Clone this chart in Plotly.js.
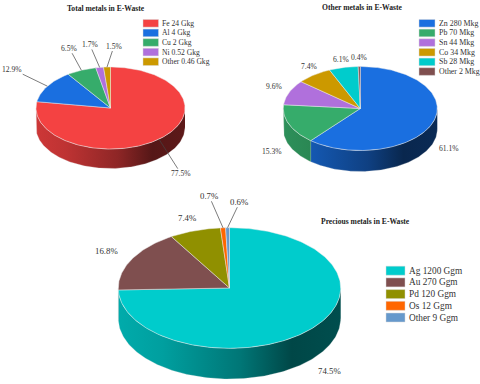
<!DOCTYPE html>
<html>
<head>
<meta charset="utf-8">
<script src="https://cdn.plot.ly/plotly-3.0.1.min.js"></script>
<style>html, body { margin: 0; padding: 0; background: #fff; } #plot { width: 480px; height: 384px; }</style>
</head>
<body>
<div id="plot"></div>
<script>
// --- values ---
const totalNames = ['Fe', 'Al', 'Cu', 'Ni', 'Other'];
const totalValues = [24, 4, 2, 0.52, 0.46];
const otherNames = ['Zn', 'Pb', 'Sn', 'Co', 'Sb', 'Other'];
const otherValues = [280, 70, 44, 34, 28, 2];
const preciousNames = ['Ag', 'Au', 'Pd', 'Os', 'Other'];
const preciousValues = [1200, 270, 120, 12, 9];

const totalColors = ['#f44242', '#1a6fe0', '#36ac6b', '#b070dc', '#cc9900'];
const otherColors = ['#1a6fe0', '#36ac6b', '#b070dc', '#cc9900', '#00cccc', '#7f4f4f'];
const preciousColors = ['#00cccc', '#7f4f4f', '#909000', '#ff6600', '#6699cc'];

// --- where each pie sits (the plot axes run in page pixels) ---
const FONT = '"Liberation Serif", "Times New Roman", serif';
const TEXT = '#333333';
const charts = [
  {
    title: 'Total metals in E-Waste', titleX: 106, titleY: 8.7, titleSize: 7.6,
    names: totalNames, values: totalValues, colors: totalColors, unit: 'Gkg',
    cx: 110.5, cy: 108, rx: 74.5, ry: 41, depth: 19.5, labelSize: 7.6,
    leaders: [true, true, true, true, true],
    offsets: [[22, 34.5], [-35, -17], [-12, -22], [-10, -23], [7, -21]],
    legend: { x: 143, y: 23.3, dy: 9.6, w: 15.5, h: 7.6, size: 7.6 },
  },
  {
    title: 'Other metals in E-Waste', titleX: 361.7, titleY: 7, titleSize: 7.6,
    names: otherNames, values: otherValues, colors: otherColors, unit: 'Mkg',
    cx: 360.3, cy: 108.5, rx: 77, ry: 42, depth: 21, labelSize: 7.6,
    leaders: [false, false, false, false, false, false],
    offsets: [[16, 26], [-17, 26.5], [-15, -6], [-5, -8], [-2.5, -8.5], [0, -9]],
    legend: { x: 419, y: 23.3, dy: 9.65, w: 16, h: 7.6, size: 7.9 },
  },
  {
    title: 'Precious metals in E-Waste', titleX: 365, titleY: 221, titleSize: 7.6,
    names: preciousNames, values: preciousValues, colors: preciousColors, unit: 'Ggm',
    cx: 229.5, cy: 288, rx: 111.2, ry: 60.3, depth: 30.7, labelSize: 8.8,
    leaders: [false, false, false, true, true],
    offsets: [[20, 41], [-25, -8], [-7, -13], [-14, -32], [12.4, -26]],
    legend: { x: 386, y: 270.7, dy: 11.7, w: 19, h: 9, size: 9.3 },
  },
];

// darkening of the side wall from the left edge to the right edge of a pie
const wallStops = [[0, 0.84], [0.2, 0.78], [0.55, 0.58], [0.78, 0.35], [1, 0.38]];

function shade(hex, f) {
  const n = parseInt(hex.slice(1), 16);
  const r = Math.round((n >> 16 & 255) * f), g = Math.round((n >> 8 & 255) * f), b = Math.round((n & 255) * f);
  return `rgb(${r},${g},${b})`;
}

// angle in degrees, clockwise from 12 o'clock
function ex(c, a) { return c.cx + c.rx * Math.sin(a * Math.PI / 180); }
function ey(c, a) { return c.cy - c.ry * Math.cos(a * Math.PI / 180); }
function arc(a0, a1) {
  const n = Math.max(1, Math.ceil(Math.abs(a1 - a0)));
  return Array.from({ length: n + 1 }, (_, i) => a0 + (a1 - a0) * i / n);
}

const walls = [], tops = [], shapes = [], annotations = [];

charts.forEach(c => {
  const sum = c.values.reduce((s, v) => s + v, 0);
  let cum = 0;
  c.values.forEach((v, i) => {
    const a0 = cum / sum * 360, a1 = (cum + v) / sum * 360, mid = (a0 + a1) / 2;
    cum += v;
    const pct = (v / sum * 100).toFixed(1) + '%';
    const hover = `${c.names[i]} ${v} ${c.unit} (${pct})<extra></extra>`;

    // side wall: only the part of the slice on the front half
    const w0 = Math.max(a0, 90), w1 = Math.min(a1, 270);
    if (w1 > w0) {
      const as = arc(w0, w1), back = as.slice().reverse();
      walls.push({
        x: as.map(a => ex(c, a)).concat(back.map(a => ex(c, a))),
        y: as.map(a => ey(c, a)).concat(back.map(a => ey(c, a) + c.depth)),
        type: 'scatter', mode: 'lines', fill: 'toself', showlegend: false,
        line: { color: 'rgba(225,225,225,0.55)', width: 0.5 },
        fillgradient: {
          type: 'horizontal', start: c.cx - c.rx, stop: c.cx + c.rx,
          colorscale: wallStops.map(s => [s[0], shade(c.colors[i], s[1])]),
        },
        hoveron: 'fills', text: pct, hovertemplate: hover,
      });
    }

    // top face
    const as = arc(a0, a1);
    tops.push({
      x: [c.cx].concat(as.map(a => ex(c, a)), [c.cx]),
      y: [c.cy].concat(as.map(a => ey(c, a)), [c.cy]),
      type: 'scatter', mode: 'lines', fill: 'toself', fillcolor: c.colors[i], showlegend: false,
      line: { color: 'rgba(235,235,235,0.8)', width: 0.6 },
      hoveron: 'fills', hovertemplate: hover,
    });

    // percent label, hung on the rim at the middle of the slice
    const off = c.offsets[i];
    const label = {
      x: ex(c, mid), y: ey(c, mid), text: pct,
      font: { family: FONT, size: c.labelSize, color: TEXT },
    };
    if (c.leaders[i]) {
      Object.assign(label, { showarrow: true, arrowhead: 0, arrowwidth: 0.7, arrowcolor: '#444', ax: off[0], ay: off[1], borderpad: 0 });
    } else {
      Object.assign(label, { showarrow: false, xshift: off[0], yshift: -off[1] });
    }
    annotations.push(label);

    // legend row
    const lg = c.legend, ry = lg.y + i * lg.dy;
    shapes.push({
      type: 'rect', xref: 'x', yref: 'y', x0: lg.x, x1: lg.x + lg.w, y0: ry - lg.h / 2, y1: ry + lg.h / 2,
      fillcolor: c.colors[i], line: { color: 'rgba(215,215,215,0.8)', width: 0.6 },
    });
    annotations.push({
      x: lg.x + lg.w + 2.5, y: ry, xanchor: 'left', yanchor: 'middle', showarrow: false, borderpad: 0,
      text: `${c.names[i]} ${v} ${c.unit}`, font: { family: FONT, size: lg.size, color: TEXT },
    });
  });

  annotations.push({
    x: c.titleX, y: c.titleY, showarrow: false, borderpad: 0,
    text: `<b>${c.title}</b>`, font: { family: FONT, size: c.titleSize, color: '#222' },
  });
});

Plotly.newPlot('plot', walls.concat(tops), {
  width: 480, height: 384, margin: { l: 0, r: 0, t: 0, b: 0 },
  paper_bgcolor: '#fff', plot_bgcolor: '#fff', showlegend: false,
  xaxis: { range: [0, 480], visible: false, fixedrange: true },
  yaxis: { range: [384, 0], visible: false, fixedrange: true },
  shapes, annotations,
}, { displayModeBar: false });
</script>
</body>
</html>
